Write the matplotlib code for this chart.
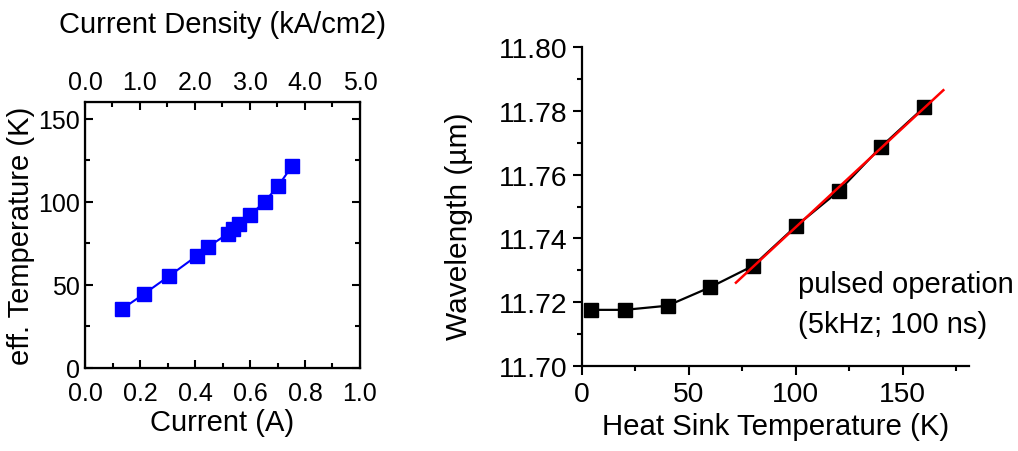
import matplotlib
matplotlib.use("Agg")
import matplotlib.pyplot as plt
import numpy as np
from matplotlib.ticker import MultipleLocator, FormatStrFormatter

plt.rcParams['font.family'] = ['Liberation Sans', 'DejaVu Sans']

# Left panel data
current_A = [0.133, 0.215, 0.305, 0.407, 0.446, 0.519, 0.538, 0.560, 0.601, 0.653, 0.702, 0.753]
eff_temp_K = [35.3, 44.6, 55.2, 67.5, 72.7, 80.7, 83.7, 86.7, 92.0, 100.0, 109.4, 121.5]

# Right panel data
heat_sink_K = [4, 20, 40, 60, 80, 100, 120, 140, 160]
wavelength_um = [11.7176, 11.7176, 11.7189, 11.7247, 11.7314, 11.7438, 11.7548, 11.7688, 11.7811]
fit_from_K = 80
fit_range_K = [72, 169]

density_per_A = 5.0  # kA/cm2 per A

fig = plt.figure(figsize=(10.18, 4.52), dpi=100)

# ---------------- Left panel ----------------
ax1 = fig.add_axes([85/1018, 1-369/452, 275/1018, 266/452])
ax1.plot(current_A, eff_temp_K, color='#0000ff', lw=1.5, marker='s',
         markersize=9.5, markerfacecolor='#0000ff', markeredgecolor='#0000ff')
ax1.set_xlim(0, 1.0)
ax1.set_ylim(0, 160)
ax1.xaxis.set_major_locator(MultipleLocator(0.2))
ax1.xaxis.set_minor_locator(MultipleLocator(0.1))
ax1.xaxis.set_major_formatter(FormatStrFormatter('%.1f'))
ax1.yaxis.set_major_locator(MultipleLocator(50))
ax1.yaxis.set_minor_locator(MultipleLocator(25))
ax1.tick_params(which='both', direction='in', width=1.5, right=True, labelsize=18)
ax1.tick_params(axis='x', which='both', pad=9.5)
ax1.tick_params(which='major', length=6)
ax1.tick_params(which='minor', length=3.5)
for s in ax1.spines.values():
    s.set_linewidth(1.6)
ax1.set_xlabel('Current (A)', fontsize=21, labelpad=2)
ax1.set_ylabel('eff. Temperature (K)', fontsize=21, labelpad=2)

ax1t = ax1.twiny()
ax1t.set_xlim(0, 1.0 * density_per_A)
ax1t.xaxis.set_major_locator(MultipleLocator(1.0))
ax1t.xaxis.set_minor_locator(MultipleLocator(0.5))
ax1t.xaxis.set_major_formatter(FormatStrFormatter('%.1f'))
ax1t.tick_params(which='both', direction='in', width=1.5, labelsize=18, pad=6)
ax1t.tick_params(which='major', length=6)
ax1t.tick_params(which='minor', length=3.5)
ax1t.set_xlabel('Current Density (kA/cm2)', fontsize=21, labelpad=27)

# ---------------- Right panel ----------------
ax2 = fig.add_axes([582/1018, 1-367/452, 387/1018, 319/452])
ax2.plot(heat_sink_K, wavelength_um, color='black', lw=1.6, marker='s',
         markersize=10, markerfacecolor='black', markeredgecolor='black', zorder=3)
hx = np.array(heat_sink_K, dtype=float)
wy = np.array(wavelength_um)
sel = hx >= fit_from_K
k, b = np.polyfit(hx[sel], wy[sel], 1)
fx = np.array(fit_range_K, dtype=float)
ax2.plot(fx, k * fx + b, color='#ff0000', lw=1.8, zorder=4)
ax2.set_xlim(0, 181)
ax2.set_ylim(11.70, 11.80)
ax2.xaxis.set_major_locator(MultipleLocator(50))
ax2.xaxis.set_minor_locator(MultipleLocator(25))
ax2.yaxis.set_major_locator(MultipleLocator(0.02))
ax2.yaxis.set_minor_locator(MultipleLocator(0.01))
ax2.yaxis.set_major_formatter(FormatStrFormatter('%.2f'))
ax2.spines['top'].set_visible(False)
ax2.spines['right'].set_visible(False)
for s in ('left', 'bottom'):
    ax2.spines[s].set_linewidth(1.6)
ax2.tick_params(which='both', direction='out', width=1.5, labelsize=20.3)
ax2.tick_params(which='major', length=6.5, pad=4)
ax2.tick_params(which='minor', length=3.5)
ax2.set_xlabel('Heat Sink Temperature (K)', fontsize=21.2, labelpad=4)
ax2.set_ylabel('Wavelength (µm)', fontsize=21.5)
ax2.yaxis.set_label_coords(-0.282, 0.44)
ax2.text(101, 11.7257, 'pulsed operation', fontsize=21, va='center', ha='left')
ax2.text(101, 11.7132, '(5kHz; 100 ns)', fontsize=21, va='center', ha='left')

fig.savefig('out.png', dpi=100)
